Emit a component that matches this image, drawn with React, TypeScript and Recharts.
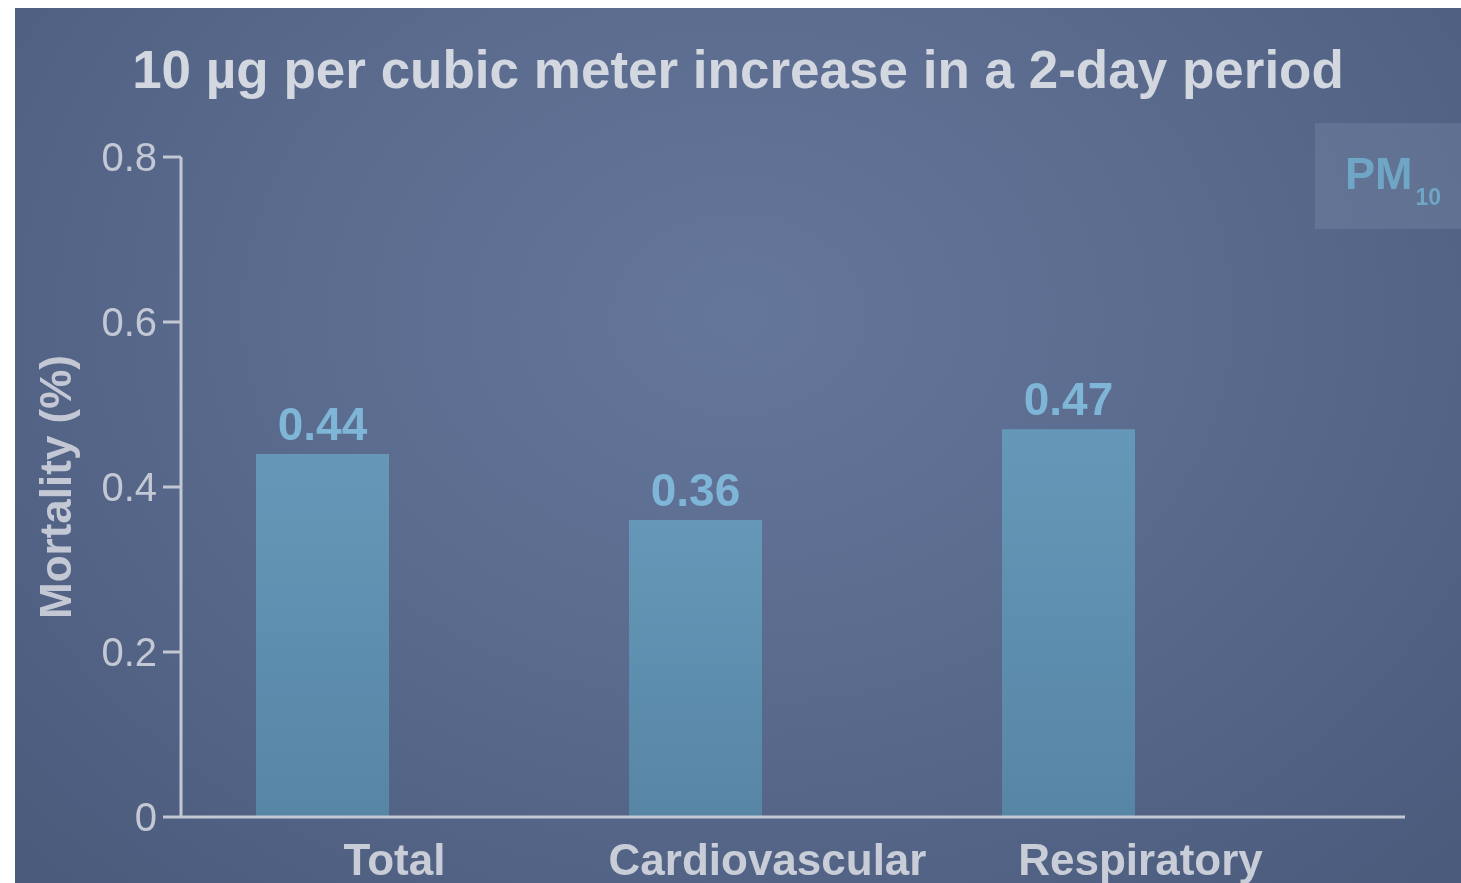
import { BarChart, Bar, XAxis, YAxis, LabelList } from "recharts";

const CATEGORIES = ["Total", "Cardiovascular", "Respiratory"];
const MORTALITY = [0.44, 0.36, 0.47];
const Y_TICKS = [0, 0.2, 0.4, 0.6, 0.8];

const data = CATEGORIES.map((name, i) => ({ name, value: MORTALITY[i] }));

const FONT = '"Liberation Sans", Arial, Helvetica, sans-serif';
const AXIS = "#c3c8d4";

function CategoryTick({ x, y, payload }: any) {
  return (
    <text x={x + 72} y={y + 42} textAnchor="middle" dominantBaseline="central"
      fill="#c9cdd7" fontSize={44} fontWeight={700} fontFamily={FONT}>
      {payload.value}
    </text>
  );
}

function YLabel({ viewBox }: any) {
  const cx = 40;
  const cy = viewBox.y + viewBox.height / 2;
  return (
    <text x={cx} y={cy} transform={`rotate(-90 ${cx} ${cy})`} textAnchor="middle" dominantBaseline="central"
      fill="#c3c8d4" fontSize={44} fontWeight={700} fontFamily={FONT}>
      Mortality (%)
    </text>
  );
}

export default function App() {
  return (
    <div style={{
      position: "fixed", left: 15, top: 8, width: 1446, height: 875, overflow: "hidden",
      background: "radial-gradient(ellipse at 50% 35%, #64769a 0%, #5a6b8e 45%, #4a5a7b 100%)",
      fontFamily: FONT,
    }}>
      <div style={{
        position: "absolute", left: 0, top: 35, width: 1446, textAlign: "center",
        fontSize: 53, lineHeight: "54px", fontWeight: 700, color: "#d3d7e0",
      }}>
        10 µg per cubic meter increase in a 2-day period
      </div>
      <div style={{
        position: "absolute", left: 1300, top: 115, width: 146, height: 106,
        background: "rgba(140,155,185,0.25)",
      }}>
        <span style={{ position: "absolute", left: 30, top: 28, fontSize: 45, lineHeight: "46px", fontWeight: 700, color: "#6fa6c6", whiteSpace: "nowrap" }}>
          PM<sub style={{ fontSize: 23, verticalAlign: "-16px", marginLeft: 3 }}>10</sub>
        </span>
      </div>
      <BarChart width={1446} height={875} data={data} margin={{ top: 149, right: 56, bottom: 0, left: 0 }}>
        <defs>
          <linearGradient id="barFill" x1="0" y1="0" x2="0" y2="1">
            <stop offset="0%" stopColor="#6598b8" />
            <stop offset="100%" stopColor="#5785a6" />
          </linearGradient>
        </defs>
        <XAxis dataKey="name" height={66} padding={{ left: -45, right: 150 }}
          axisLine={{ stroke: AXIS, strokeWidth: 3 }} tickLine={false} tickSize={0} tickMargin={0}
          tick={<CategoryTick />} interval={0} />
        <YAxis width={166} domain={[0, 0.8]} ticks={Y_TICKS} type="number"
          axisLine={{ stroke: AXIS, strokeWidth: 3 }} tickLine={{ stroke: AXIS, strokeWidth: 3 }}
          tickSize={18} tickMargin={6}
          tick={{ fill: "#c3c8d4", fontSize: 40, fontFamily: FONT }}
          tickFormatter={(v: number) => String(v)}
          label={<YLabel />} />
        <Bar dataKey="value" fill="url(#barFill)" barSize={133} isAnimationActive={false}>
          <LabelList dataKey="value" position="top" offset={14}
            fill="#7fb5d6" fontSize={46} fontWeight={700} fontFamily={FONT}
            formatter={(v: any) => Number(v).toFixed(2)} />
        </Bar>
      </BarChart>
    </div>
  );
}
